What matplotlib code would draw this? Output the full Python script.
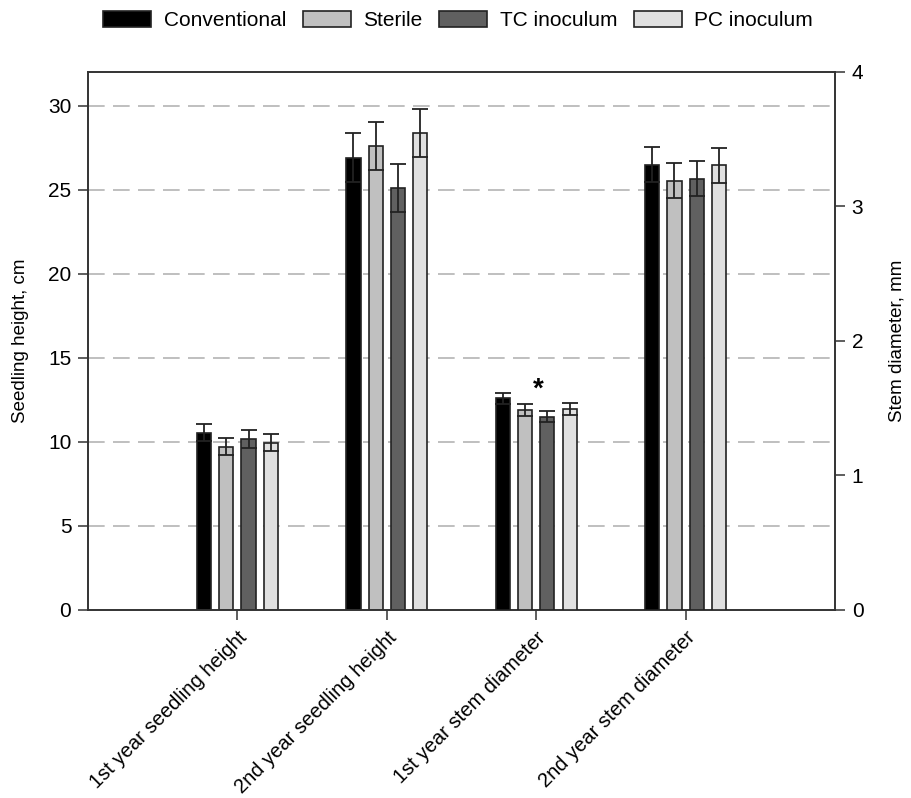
import matplotlib
matplotlib.use("Agg")
import matplotlib.pyplot as plt
from matplotlib.patches import Patch
import numpy as np

plt.rcParams['font.family'] = ['Liberation Sans', 'DejaVu Sans']

categories = ["1st year seedling height", "2nd year seedling height",
              "1st year stem diameter", "2nd year stem diameter"]
series = ["Conventional", "Sterile", "TC inoculum", "PC inoculum"]
# first two categories in cm (left axis), last two in mm (right axis)
means = {
    "Conventional": [10.55, 26.9, 1.575, 3.31],
    "Sterile":      [9.72, 27.6, 1.49, 3.19],
    "TC inoculum":  [10.18, 25.1, 1.437, 3.205],
    "PC inoculum":  [9.96, 28.35, 1.494, 3.305],
}
errors = {
    "Conventional": [0.52, 1.45, 0.04, 0.13],
    "Sterile":      [0.52, 1.45, 0.045, 0.13],
    "TC inoculum":  [0.52, 1.45, 0.043, 0.13],
    "PC inoculum":  [0.53, 1.43, 0.047, 0.13],
}
colors = ["#000000", "#c0c0c0", "#606060", "#e0e0e0"]
left_ticks = [0, 5, 10, 15, 20, 25, 30]
right_ticks = [0, 1, 2, 3, 4]

fig = plt.figure(figsize=(9.11, 7.98), dpi=100)
ax1 = fig.add_axes([0.0966, 0.2356, 0.82, 0.6742])
ax2 = ax1.twinx()

spacing = 0.149
width = 0.095
x = np.arange(len(categories))
edge = "#222222"
for i, s in enumerate(series):
    off = (i - 1.5) * spacing
    for j in range(len(categories)):
        ax = ax1 if j < 2 else ax2
        ax.bar(x[j] + off, means[s][j], width, color=colors[i], edgecolor=edge,
               linewidth=1.2, zorder=3)
        ax.errorbar(x[j] + off, means[s][j], yerr=errors[s][j], fmt='none',
                    ecolor="#222222", elinewidth=1.3, capsize=6, capthick=1.3, zorder=4)

ax1.set_xlim(-1, 4)
ax1.set_ylim(0, 32)
ax2.set_ylim(0, 4)
ax1.set_yticks(left_ticks)
ax2.set_yticks(right_ticks)
ax1.set_xticks(x)
ax1.set_xticklabels(categories, rotation=45, ha='right', rotation_mode='anchor', fontsize=14.5)
ax1.tick_params(axis='y', labelsize=15, length=7, width=1.1, direction='out', color="#333333", pad=5)
ax2.tick_params(axis='y', labelsize=15, length=7, width=1.1, direction='out', color="#333333", pad=5)
ax1.tick_params(axis='x', length=7, width=1.1, direction='out', color="#333333", pad=6)

for g in left_ticks[1:]:
    ax1.axhline(g, color="#b4b4b4", linestyle=(0, (10, 5)), linewidth=1.2, zorder=1)
ax1.set_axisbelow(True)

for ax in (ax1, ax2):
    for sp in ax.spines.values():
        sp.set_linewidth(1.2)
        sp.set_color("#333333")

ax1.set_ylabel("Seedling height, cm", fontsize=13.5, labelpad=14)
ax2.set_ylabel("Stem diameter, mm", fontsize=13.5, labelpad=18)

ax2.text(x[2] + 0.015, 1.54, "*", ha='center', va='bottom', fontsize=20, fontweight='bold')

handles = [Patch(facecolor=c, edgecolor=edge, linewidth=1.2) for c in colors]
fig.legend(handles, series, loc='upper center', bbox_to_anchor=(0.503, 1.01), ncol=4,
           frameon=False, fontsize=15, handlelength=2.3, handleheight=0.8,
           columnspacing=0.8, handletextpad=0.6)

fig.savefig("out.png", dpi=100)
